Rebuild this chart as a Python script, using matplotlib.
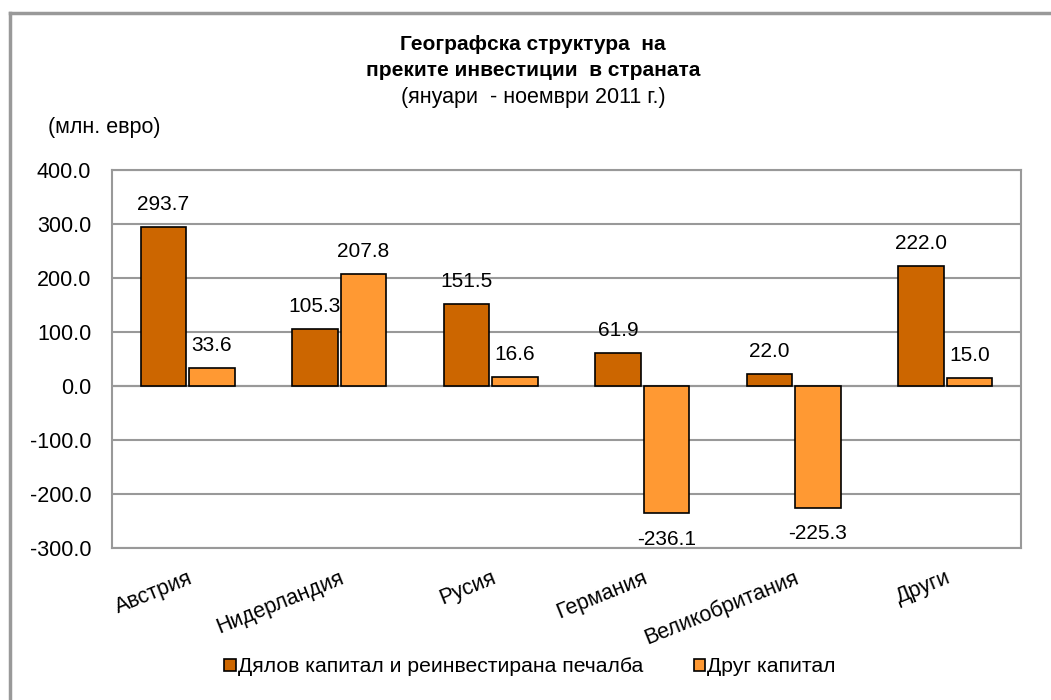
import matplotlib.pyplot as plt
import numpy as np

plt.rcParams['font.family'] = ['Liberation Sans', 'DejaVu Sans']

countries = ['Австрия', 'Нидерландия', 'Русия', 'Германия', 'Великобритания', 'Други']
equity = [293.7, 105.3, 151.5, 61.9, 22.0, 222.0]
other = [33.6, 207.8, 16.6, -236.1, -225.3, 15.0]
series_names = ['Дялов капитал и реинвестирана печалба', 'Друг капитал']

dark = '#CC6600'
light = '#FF9933'

fig = plt.figure(figsize=(10.51, 7.0), dpi=100)
W, H = 1051, 700

# outer chart frame (only top and left edge visible in the crop)
fig.add_artist(plt.Line2D([10 / W, 10 / W], [0, 1 - 13 / H], color='#999999', lw=2.5,
                          transform=fig.transFigure))
fig.add_artist(plt.Line2D([10 / W, 1], [1 - 13 / H, 1 - 13 / H], color='#999999', lw=2.5,
                          transform=fig.transFigure))

ax = fig.add_axes([112 / W, 1 - 548 / H, (1021 - 112) / W, (548 - 170) / H])

x = np.arange(len(countries))
bw = 0.3
gap = 0.01
b1 = ax.bar(x - bw / 2 - gap, equity, bw, color=dark, edgecolor='black', lw=1.2, zorder=3,
            label=series_names[0])
b2 = ax.bar(x + bw / 2 + gap, other, bw, color=light, edgecolor='black', lw=1.2, zorder=3,
            label=series_names[1])

for bars in (b1, b2):
    for r in bars:
        v = r.get_height()
        cx = r.get_x() + r.get_width() / 2
        if v >= 0:
            ax.text(cx, v + 24, f'{v:.1f}', ha='center', va='bottom', fontsize=15, zorder=4)
        else:
            ax.text(cx, v - 30, f'{v:.1f}', ha='center', va='top', fontsize=15, zorder=4)

ax.set_xlim(-0.5, len(countries) - 0.5)
ax.set_ylim(-300, 400)
ax.set_yticks(np.arange(-300, 401, 100))
ax.set_yticklabels([f'{t:.1f}' for t in np.arange(-300, 401, 100)], fontsize=15.5)
ax.yaxis.grid(True, color='#999999', lw=1.5, zorder=0)
ax.axhline(0, color='#999999', lw=1.5, zorder=2)
ax.tick_params(axis='both', length=0)
ax.tick_params(axis='y', pad=15)
for s in ax.spines.values():
    s.set_color('#999999')
    s.set_linewidth(1.5)

ax.set_xticks(x)
ax.set_xticklabels(countries, rotation=22, ha='right', rotation_mode='anchor', fontsize=15.5)
ax.tick_params(axis='x', pad=14)

fig.text(533 / W, 1 - 45 / H, 'Географска структура  на', ha='center', va='center',
         fontsize=15, fontweight='bold')
fig.text(533 / W, 1 - 71 / H, 'преките инвестиции  в страната', ha='center', va='center',
         fontsize=15, fontweight='bold')
fig.text(533 / W, 1 - 97 / H, '(януари  - ноември 2011 г.)', ha='center', va='center',
         fontsize=15.5)
fig.text(48 / W, 1 - 128 / H, '(млн. евро)', ha='left', va='center', fontsize=15.5)

fig.legend(handles=[b1, b2], loc='center', bbox_to_anchor=(530 / W, 1 - 667 / H), ncol=2,
           frameon=False, handlelength=0.55, handleheight=0.55,
           handletextpad=0.1, columnspacing=2.4, fontsize=15.2)

fig.savefig('out.png', dpi=100)
